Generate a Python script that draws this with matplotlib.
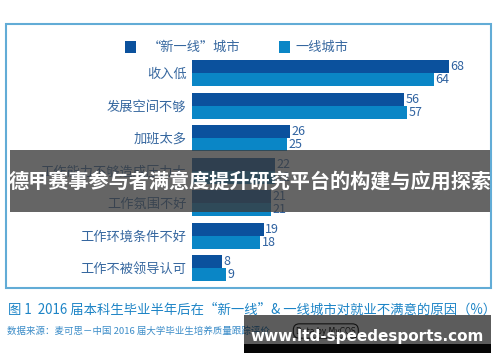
import matplotlib.pyplot as plt
from matplotlib.patches import Rectangle
import numpy as np

plt.rcParams['font.family'] = ['Noto Sans CJK SC', 'DejaVu Sans']

# 数据
categories = ['收入低', '发展空间不够', '加班太多', '工作能力不够造成压力大',
              '工作氛围不好', '工作环境条件不好', '工作不被领导认可']
new_tier1 = [68, 56, 26, 22, 21, 19, 8]   # "新一线"城市
tier1 = [64, 57, 25, 22, 21, 18, 9]       # 一线城市
series_names = ['“新一线”城市', '一线城市']

dark = '#0b519d'
light = '#0a86c6'
label_color = '#36679f'

W, H = 500, 362
fig = plt.figure(figsize=(W / 100, H / 100), dpi=100)


def fx(px):
    return px / W


def fy(py):
    return 1 - py / H


# 外框
fig.patches.append(Rectangle((fx(6), fy(288)), fx(485), 264 / H, transform=fig.transFigure,
                             fill=False, edgecolor='#62acd6', linewidth=1.5))

# 条形图
ax = fig.add_axes([fx(192), fy(284.25), fx(288), 227.5 / H])
y = np.arange(len(categories))
h = 0.4
b1 = ax.barh(y - h / 2, new_tier1, height=h, color=dark)
b2 = ax.barh(y + h / 2, tier1, height=h, color=light)
ax.set_xlim(0, 288 / 3.78)
ax.set_ylim(len(categories) - 0.5, -0.5)
ax.set_xticks([])
ax.set_yticks(y)
ax.set_yticklabels(categories, fontsize=9.5, color=label_color)
ax.tick_params(axis='y', length=0, pad=4)
for s in ax.spines.values():
    s.set_visible(False)

# 数值标签
for bars in (b1, b2):
    for bar in bars:
        ax.text(bar.get_width() + 0.4, bar.get_y() + bar.get_height() / 2,
                f'{bar.get_width():.0f}', va='center', ha='left',
                fontsize=9, color='#2f62a0')

# 图例（手动放置）
for (sx, tx), name, col in zip([(125, 148), (279, 295)], series_names, [dark, light]):
    fig.patches.append(Rectangle((fx(sx), fy(53)), fx(11), 12 / H,
                                 transform=fig.transFigure, facecolor=col, edgecolor='none'))
    fig.text(fx(tx), fy(47), name, fontsize=9.5, color=label_color, va='center', ha='left')

# 图题与来源
fig.text(fx(8), fy(310), '图 1  2016 届本科生毕业半年后在“新一线”& 一线城市对就业不满意的原因（%）',
         fontsize=9.6, color='#1d84c6', va='center', ha='left')
fig.text(fx(7), fy(331), '数据来源：麦可思－中国 2016 届大学毕业生培养质量跟踪评价',
         fontsize=6.8, color='#3b8cc8', va='center', ha='left')
fig.text(fx(296), fy(331), 'Data by MyCOS', fontsize=5.5, color='#333333', va='center', ha='left',
         family=['DejaVu Sans'],
         bbox=dict(boxstyle='round,pad=0.35,rounding_size=0.8', fc='white', ec='#333333', lw=0.8))

# 叠加横幅
fig.patches.append(Rectangle((fx(10), fy(212)), fx(480), 62 / H, transform=fig.transFigure,
                             facecolor='#3a3a3a', alpha=0.78, edgecolor='none', zorder=5))
fig.text(0.5, fy(181), '德甲赛事参与者满意度提升研究平台的构建与应用探索', fontsize=14.5,
         fontweight='bold', color='white', ha='center', va='center', zorder=6)

# 网址水印
fig.patches.append(Rectangle((fx(244), fy(344)), fx(247), 29 / H, transform=fig.transFigure,
                             facecolor='black', alpha=0.64, edgecolor='none', zorder=5))
fig.patches.append(Rectangle((fx(244), fy(353)), fx(247), 9 / H, transform=fig.transFigure,
                             facecolor='#050505', edgecolor='none', zorder=5))
fig.text(fx(367), fy(337), 'www.ltd-speedesports.com', fontsize=11, fontweight='bold',
         color='white', ha='center', va='center', family=['DejaVu Sans'], zorder=6)

fig.savefig('out.png', dpi=100)
